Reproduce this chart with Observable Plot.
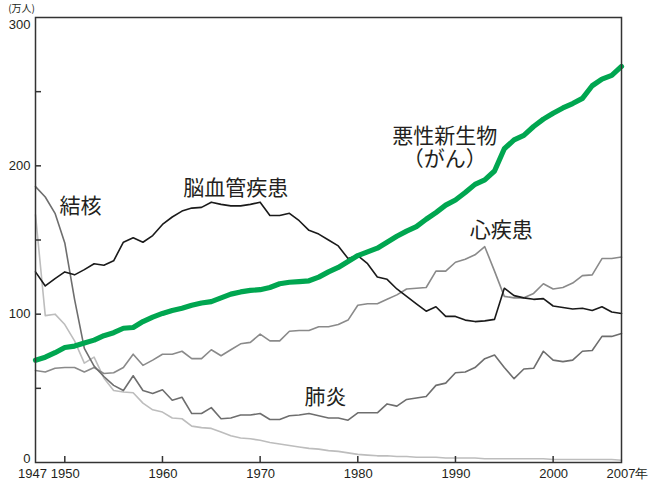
<!DOCTYPE html>
<html>
<head>
<meta charset="utf-8">
<script src="https://cdn.jsdelivr.net/npm/d3@7"></script>
<script src="https://cdn.jsdelivr.net/npm/@observablehq/plot@0.6"></script>
<style>
  html, body { margin: 0; padding: 0; background: #fff; }
  #chart svg { display: block; }
</style>
</head>
<body>
<div id="chart"></div>
<script>
const years = d3.range(1947, 2008);

// 悪性新生物（がん） – thick green line
const cancer = [69,71,74,77.5,78.5,80.5,82.5,85.5,87.5,90.5,91,95,98,100.5,102.5,104,106,107.5,108.5,111,113.5,115,116,116.5,118,120.5,121.5,122,122.5,125,128.5,131.5,135.5,139.5,142,144.5,148.5,152.5,156,159,164,168.5,173.5,177,182,187.5,190.5,196.5,211.5,217.5,220.5,226.5,231.5,235.5,239,242,245.5,254,258.5,261,267];

// 脳血管疾患 – black line
const cerebro = [128.5,119,124,128.5,126.5,130,134,133,136,148.5,151.5,148.5,153,160.5,165.5,169.5,171.5,172,175.5,174,173,173,174,175.5,166.5,166.5,168,163,156.5,154,150,146,137.5,139.5,134,125,123.5,117,112,107,102,105,98.5,98.5,96,95,95.5,96.5,117.5,112.5,111,110,110.5,105.5,104.5,103.5,104,102.5,105,101.5,100.5];

// 心疾患 – grey line
const heart = [62,61,63.5,64,64,61,64,60,60.5,64,73,65.5,69,73,73,75,70,70,76,72,76,80,81,86.5,82,82,88.5,89,89,91.5,91.5,93,96,106,107,107,110,113,117,117.5,118,129,129,135,137,140,145.5,129,112,111,111,114,120.5,117,118,121,126,126.5,137.5,137.5,138.5];

// darker grey line (starts at 結核, continues as 肺炎)
const midGray = [186,179,168,148,110,77,65,58,52,48.5,58.5,48.5,46.5,49,42,44,33,33,37,29.5,30,32,32,33,29,29,31.5,32,33,31.5,30,30,28.5,33.5,33.5,33.5,39.5,38,42.5,43.5,44.5,52,53.5,60.5,61,64,70,72.5,64,56.5,63,63.5,75,69,68,69,75,75.5,85,85,87];

// light grey line
const lightGray = [167,99,100,93,82,67,71,57,48.5,47.5,47,40,35.5,34,30,29.5,24.5,23.5,23,20.5,18,16.5,16,15,13.5,12.5,11.5,10.5,9.5,9,8,7.5,6.5,5.5,5,4.5,4.5,4,4,3.5,3.5,3.5,3,3,3,3,2.5,2.5,2.5,2.5,2.5,2.5,2.5,2,2,2,2,2,2,2,1.5];

const yZeroTick = [0];
const yLabelTicks = [100, 200];
const yTopTick = [300];
const yMinorTicks = [50, 100, 150, 200, 250];
const xFirstTick = [1947];
const xLabelTicks = [1950, 1960, 1970, 1980, 1990, 2000];
const xLastTick = [2007];

const labels = [
  {text: "結核", x: 1951.6, y: 173},
  {text: "脳血管疾患", x: 1967.5, y: 185},
  {text: "悪性新生物\n（がん）", x: 1988.9, y: 212.5},
  {text: "心疾患", x: 1994.7, y: 157},
  {text: "肺炎", x: 1976.7, y: 44.5}
];

const toRows = arr => years.map((yr, i) => ({year: yr, value: arr[i]}));

const cjk = "'Noto Sans CJK JP', 'Noto Sans', sans-serif";
const num = "'Liberation Sans', Arial, sans-serif";
const ink = "#231f20";

const chart = Plot.plot({
  width: 649,
  height: 486,
  marginLeft: 35,
  marginRight: 28,
  marginTop: 17,
  marginBottom: 24,
  style: {fontFamily: num, background: "#fff", color: ink},
  x: {domain: [1947, 2007]},
  y: {domain: [0, 300]},
  marks: [
    Plot.line(toRows(lightGray), {x: "year", y: "value", stroke: "#bdbdbd", strokeWidth: 1.6}),
    Plot.line(toRows(heart), {x: "year", y: "value", stroke: "#8a8a8a", strokeWidth: 1.6}),
    Plot.line(toRows(midGray), {x: "year", y: "value", stroke: "#6e6e6e", strokeWidth: 1.6}),
    Plot.line(toRows(cerebro), {x: "year", y: "value", stroke: "#1a1a1a", strokeWidth: 1.6}),
    Plot.line(toRows(cancer), {x: "year", y: "value", stroke: "#00a650", strokeWidth: 5.2, strokeLinejoin: "round"}),
    Plot.frame({stroke: "#333", strokeWidth: 1.5}),
    Plot.axisY({ticks: yMinorTicks, tickSize: -6, tickFormat: () => "", stroke: "#333", strokeWidth: 1.5, label: null}),
    Plot.axisY({ticks: yZeroTick, tickSize: 0, tickPadding: 5, fontSize: 13, dy: -4, label: null}),
    Plot.axisY({ticks: yLabelTicks, tickSize: 0, tickPadding: 5, fontSize: 13, label: null}),
    Plot.axisY({ticks: yTopTick, tickSize: 0, tickPadding: 5, fontSize: 13, dy: 7, label: null}),
    Plot.axisX({ticks: xLabelTicks, tickSize: -6, tickFormat: () => "", stroke: "#333", strokeWidth: 1.5, label: null}),
    Plot.axisX({ticks: xFirstTick, tickSize: 0, tickPadding: 6, fontSize: 13, dx: -3, tickFormat: d => String(d), label: null}),
    Plot.axisX({ticks: xLabelTicks, tickSize: 0, tickPadding: 6, fontSize: 13, dx: 0.5, tickFormat: d => String(d), label: null}),
    Plot.axisX({ticks: xLastTick, tickSize: 0, tickPadding: 6, fontSize: 13, tickFormat: d => d + "年", textAnchor: "start", dx: -15, label: null}),
    Plot.text(["(万人)"], {x: () => 1947, y: () => 300, text: d => d, dx: -14, dy: -9, fontSize: 10, fontFamily: cjk, fill: ink}),
    Plot.text(labels, {x: "x", y: "y", text: "text", fontSize: 21, lineHeight: 1.1, fontFamily: cjk, fill: ink})
  ]
});

document.getElementById("chart").appendChild(chart);
</script>
</body>
</html>
